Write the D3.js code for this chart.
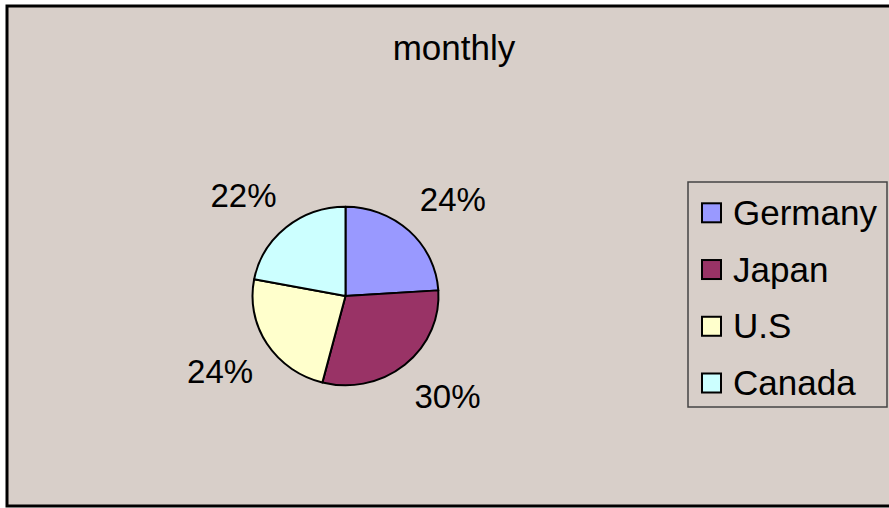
<!DOCTYPE html>
<html>
<head>
<meta charset="utf-8">
<script src="https://cdn.jsdelivr.net/npm/d3@7/dist/d3.min.js"></script>
<style>
  html, body { margin: 0; padding: 0; background: #ffffff; }
  svg { display: block; }
  text { font-family: "Liberation Sans", Arial, sans-serif; fill: #000; }
</style>
</head>
<body>
<svg id="chart" width="889" height="508"></svg>
<script>
// Monthly share by country
const title = "monthly";
const countries = ["Germany", "Japan", "U.S", "Canada"];
const shares = [24, 30, 24, 22];
const sliceColors = ["#9999FF", "#993366", "#FFFFCC", "#CCFFFF"];

const svg = d3.select("#chart");
const W = 889, H = 508;

// chart area with its frame
svg.append("rect")
  .attr("x", 7).attr("y", 6)
  .attr("width", W + 10).attr("height", 500)
  .attr("fill", "#d8cfc9")
  .attr("stroke", "#000").attr("stroke-width", 3);

svg.append("text")
  .attr("x", 454).attr("y", 59.5)
  .attr("text-anchor", "middle")
  .style("font-size", "35px")
  .text(title);

// pie
const cx = 345.5, cy = 296, radius = 93, squash = 0.96;
const color = d3.scaleOrdinal().domain(countries).range(sliceColors);
const pie = d3.pie().sort(null).value(d => d.value);
const arcs = pie(countries.map((c, i) => ({ name: c, value: shares[i] })));
const arc = d3.arc().innerRadius(0).outerRadius(radius);

const pieG = svg.append("g")
  .attr("transform", `translate(${cx},${cy}) scale(1,${squash})`);
pieG.selectAll("path")
  .data(arcs)
  .join("path")
  .attr("d", arc)
  .attr("fill", d => color(d.data.name))
  .attr("stroke", "#000")
  .attr("stroke-width", 2)
  .attr("stroke-linejoin", "round");

// percentage labels placed just outside each slice
const total = d3.sum(shares);
const labelR = 113, halfW = 30, halfH = 11.5;
svg.selectAll("text.pct")
  .data(arcs)
  .join("text")
  .attr("class", "pct")
  .attr("text-anchor", "middle")
  .style("font-size", "33px")
  .attr("x", d => {
    const a = (d.startAngle + d.endAngle) / 2;
    const s = Math.sin(a);
    return cx + labelR * s + Math.sign(s) * halfW;
  })
  .attr("y", d => {
    const a = (d.startAngle + d.endAngle) / 2;
    const c = Math.cos(a);
    const mid = cy - labelR * squash * c - Math.sign(c) * halfH * 1.5;
    return mid + halfH;
  })
  .text(d => Math.round(d.data.value / total * 100) + "%");

// legend
const leg = svg.append("g");
leg.append("rect")
  .attr("x", 688).attr("y", 182)
  .attr("width", 199).attr("height", 225)
  .attr("fill", "#d8cfc9")
  .attr("stroke", "#444").attr("stroke-width", 1.5);

const rowY = d3.scalePoint().domain(countries).range([212.8, 383]);
const item = leg.selectAll("g.item")
  .data(countries)
  .join("g")
  .attr("class", "item")
  .attr("transform", d => `translate(0,${rowY(d)})`);
item.append("rect")
  .attr("x", 702).attr("y", -9.5)
  .attr("width", 19).attr("height", 19)
  .attr("fill", d => color(d))
  .attr("stroke", "#000").attr("stroke-width", 2);
item.append("text")
  .attr("x", 733).attr("y", 12)
  .style("font-size", "35px")
  .text(d => d);
</script>
</body>
</html>
